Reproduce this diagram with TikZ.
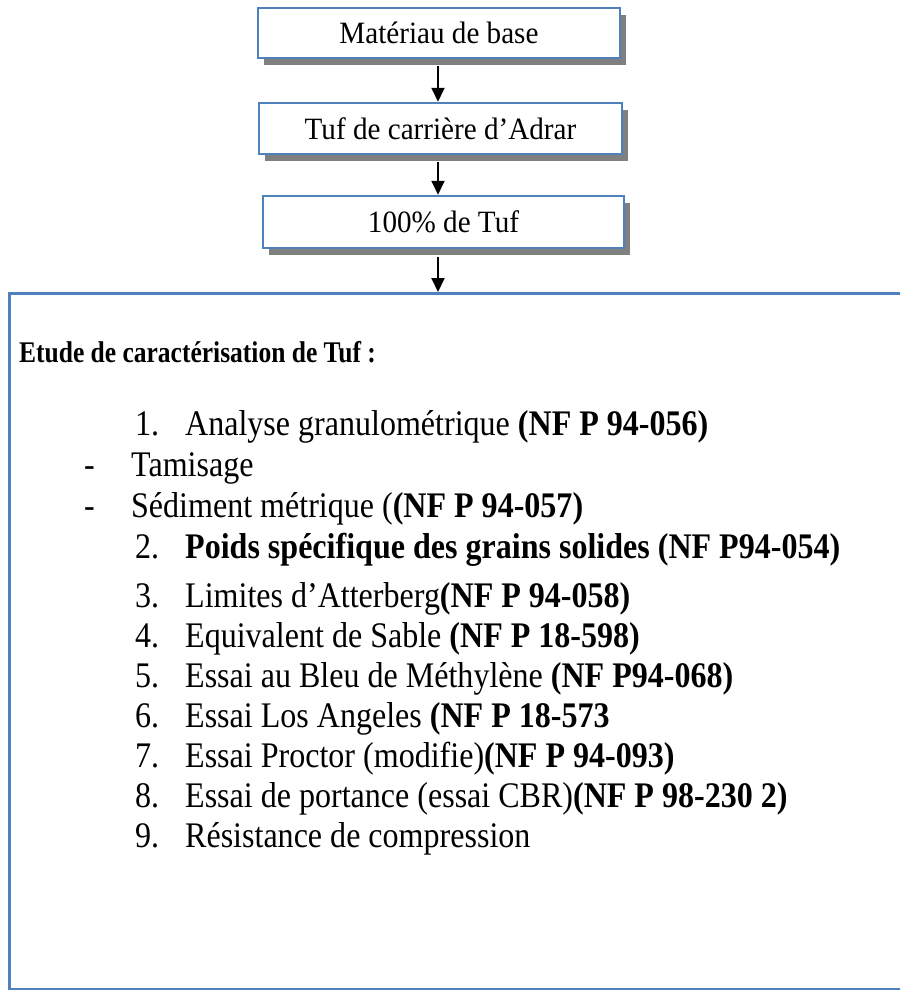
\documentclass[tikz,border=0pt]{standalone}
\usepackage{fontspec}
\setmainfont[FakeStretch=0.89]{Liberation Serif}
\newfontfamily\boxfont[FakeStretch=0.94]{Liberation Serif}
\newfontfamily\headfont[FakeStretch=0.85]{Liberation Serif}
\usetikzlibrary{arrows.meta,shadows}
\definecolor{wblue}{HTML}{4F81BD}
\definecolor{wshadow}{HTML}{808080}
\tikzset{
  flowbox/.style={draw=wblue, line width=2.5pt, fill=white, inner sep=0pt,
    minimum width=362pt, minimum height=50pt,
    font=\boxfont\fontsize{31}{36}\selectfont,
    drop shadow={shadow xshift=6pt, shadow yshift=-7pt, fill=wshadow, opacity=1}},
  bigbox/.style={draw=wblue, line width=3pt, inner sep=0pt, anchor=north west},
  flowarrow/.style={draw=black, line width=2pt, -{Triangle[width=13pt,length=14pt]}},
  heading/.style={anchor=base west, inner sep=0pt, font=\headfont\bfseries\fontsize{30}{36}\selectfont},
  listline/.style={anchor=base west, inner sep=0pt, font=\fontsize{36}{42}\selectfont}
}
\newcommand{\numcol}[1]{\makebox[50pt][l]{#1}}
\newcommand{\dashcol}[1]{\makebox[47pt][l]{#1}}
\begin{document}
\begin{tikzpicture}[x=1pt, y=-1pt]
  \clip (0,0) rectangle (900,990);
  \coordinate (ax) at (438,0);
  % flow boxes
  \node[flowbox] (b1) at (439,33) {Matériau de base};
  \node[flowbox, minimum width=363pt, minimum height=51pt] (b2) at (440.5,128.5) {Tuf de carrière d’Adrar};
  \node[flowbox, minimum width=361pt, minimum height=52pt] (b3) at (443.5,222) {100\% de Tuf};
  % big box
  \node[bigbox, minimum width=905pt, minimum height=696pt] (study) at (8,292) {};
  % arrows
  \draw[flowarrow, shorten <=7pt] (b1.south -| ax) -- (b2.north -| ax);
  \draw[flowarrow, shorten <=7pt] (b2.south -| ax) -- (b3.north -| ax);
  \draw[flowarrow, shorten <=8pt] (b3.south -| ax) -- (study.north -| ax);
  % texts
  \node[heading] (h) at (19,362) {Etude de caractérisation de Tuf :};
  \node[listline] (l1) at (135,435) {\numcol{1.}Analyse granulométrique \textbf{(NF P 94-056)}};
  \node[listline] (d1) at (84,476) {\dashcol{-}Tamisage};
  \node[listline] (d2) at (84,517) {\dashcol{-}Sédiment métrique (\textbf{(NF P 94-057)}};
  \node[listline] (l2) at (135,558) {\numcol{2.}\textbf{Poids spécifique des grains solides (NF P94-054)}};
  \node[listline] (l3) at (135,607) {\numcol{3.}Limites d’Atterberg\textbf{(NF P 94-058)}};
  \node[listline] (l4) at (135,647) {\numcol{4.}Equivalent de Sable \textbf{(NF P 18-598)}};
  \node[listline] (l5) at (135,687) {\numcol{5.}Essai au Bleu de Méthylène \textbf{(NF P94-068)}};
  \node[listline] (l6) at (135,727) {\numcol{6.}Essai Los Angeles \textbf{(NF P 18-573}};
  \node[listline] (l7) at (135,767) {\numcol{7.}Essai Proctor (modifie)\textbf{(NF P 94-093)}};
  \node[listline] (l8) at (135,807) {\numcol{8.}Essai de portance (essai CBR)\textbf{(NF P 98-230 2)}};
  \node[listline] (l9) at (135,847) {\numcol{9.}Résistance de compression};
\end{tikzpicture}
\end{document}
